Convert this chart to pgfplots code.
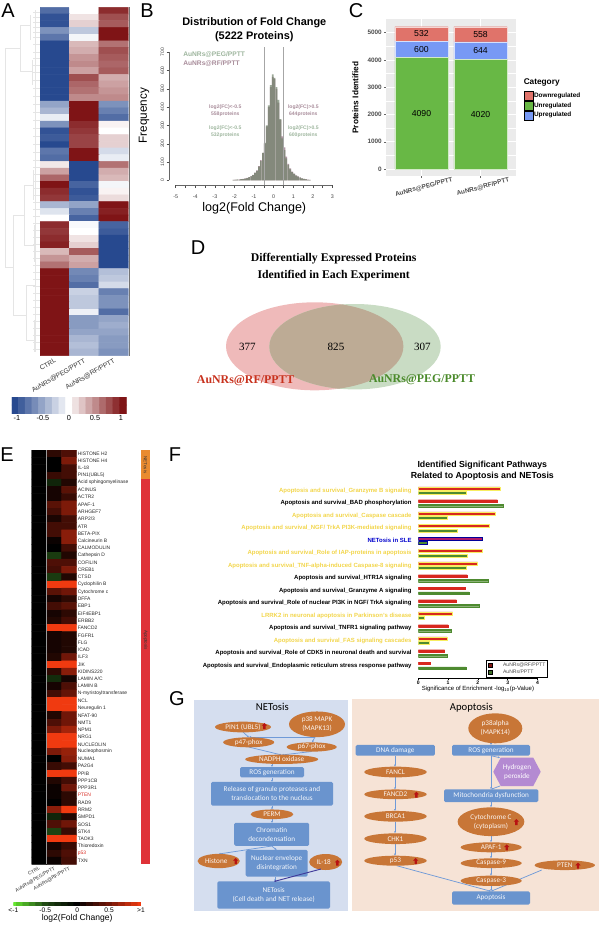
\documentclass[border=0pt]{standalone}
\usepackage{fontspec}
\setmainfont{Liberation Sans}
\newfontfamily\timesf{Liberation Serif}
\newfontfamily\calf{Carlito}
\usepackage{pgfplots}
\pgfplotsset{compat=1.18}
\usetikzlibrary{arrows.meta}

\newlength\px
\setlength\px{0.75pt}
\newcommand\fs[1]{\fontsize{#1}{1.25\dimexpr#1pt\relax}\selectfont}

\definecolor{hmblue}{HTML}{27498F}
\definecolor{hmred}{HTML}{7F1416}
\definecolor{hmgreen}{HTML}{66E830}
\definecolor{hmdkgreen}{HTML}{204A14}
\definecolor{hmdkred}{HTML}{701608}
\definecolor{hmorange}{HTML}{F03A10}
\definecolor{ggbg}{HTML}{EBEBEB}
\definecolor{downc}{HTML}{E0736A}
\definecolor{upc}{HTML}{7799F5}
\definecolor{unc}{HTML}{68B845}
\definecolor{ylw}{HTML}{F2D54A}
\definecolor{barred}{HTML}{D8281F}
\definecolor{bargreen}{HTML}{4E8A30}
\definecolor{halo}{HTML}{F8EE60}
\definecolor{ovalc}{HTML}{C87637}
\definecolor{rectc}{HTML}{6A94CE}
\definecolor{linkc}{HTML}{6F9AD8}
\definecolor{redc}{HTML}{B81212}
\definecolor{pegc}{HTML}{9DB59D}
\definecolor{pegbar}{HTML}{72846C}
\definecolor{rfc}{HTML}{A88C9A}
\definecolor{vennl}{HTML}{EFBABA}
\definecolor{vennr}{HTML}{C9DCC4}
\definecolor{vennm}{HTML}{BDAB95}
\definecolor{vennredtxt}{HTML}{C8321E}
\definecolor{venngrntxt}{HTML}{4A8A2A}
\definecolor{sideorange}{HTML}{E98B2F}
\definecolor{sidered}{HTML}{DF3238}
\definecolor{bgblue}{HTML}{D5DEEF}
\definecolor{bgorange}{HTML}{F6E3D6}
\definecolor{hexc}{HTML}{B48AD2}
\definecolor{ilarrow}{HTML}{3F3A9A}

\pgfplotsset{
  colormap={bwr}{color=(hmblue) color=(white) color=(hmred)},
  colormap={gbr}{color=(hmgreen) color=(hmdkgreen) color=(black) color=(hmdkred) color=(hmorange)},
  /pgf/number format/assume math mode=true,
}

\newcommand\ovl[5]{%
  \fill[ovalc] (#1,#2) ellipse ({#3/2} and {#4/2});
  \node[text=white!92!ovalc,font=\calf\fs{5.4},align=center,inner sep=0pt] at (#1,#2) {#5};}
\newcommand\rct[5]{%
  \fill[rectc,rounded corners=1.1pt] ({#1-#3/2},{#2-#4/2}) rectangle ({#1+#3/2},{#2+#4/2});
  \node[text=white!92!rectc,font=\calf\fs{5.4},align=center,inner sep=0pt] at (#1,#2) {#5};}
\newcommand\redup[2]{%
  \fill[redc,shift={(#1,#2)}] (0,-3) -- (2.7,-.3) -- (1.2,-.3) -- (1.2,3) -- (-1.2,3) -- (-1.2,-.3) -- (-2.7,-.3) -- cycle;}

\begin{document}
\begin{tikzpicture}
\useasboundingbox (0,0) rectangle (600\px,-925\px);

% A heat map
\begin{axis}[at={(40\px,-7.3\px)},anchor=north west,scale only axis,
  width=88.3\px,height=348.4\px,
  xmin=-.5,xmax=2.5,ymin=-.5,ymax=51.5,y dir=reverse,
  axis line style={draw=none},tick style={draw=none},
  ytick=\empty,xtick={0,1,2},
  xticklabels={CTRL,AuNRs@PEG/PPTT,AuNRs@RF/PPTT},
  xticklabel style={rotate=30,anchor=north east,font=\fs{5},text=black!80,inner sep=1pt},
  colormap name=bwr,point meta min=-1,point meta max=1]
\addplot[matrix plot*,mesh/cols=3,point meta=explicit] coordinates {
(0,0)[-.8] (1,0)[0] (2,0)[.9]
(0,1)[-.95] (1,1)[.12] (2,1)[.75]
(0,2)[-.95] (1,2)[.2] (2,2)[.7]
(0,3)[-.6] (1,3)[-.3] (2,3)[1]
(0,4)[-.75] (1,4)[-.05] (2,4)[1]
(0,5)[-1] (1,5)[.3] (2,5)[.6]
(0,6)[-1] (1,6)[.35] (2,6)[.75]
(0,7)[-1] (1,7)[.45] (2,7)[.7]
(0,8)[-1] (1,8)[.5] (2,8)[.65]
(0,9)[-1] (1,9)[.4] (2,9)[.7]
(0,10)[-1] (1,10)[.75] (2,10)[.35]
(0,11)[-1] (1,11)[.65] (2,11)[.4]
(0,12)[-1] (1,12)[.6] (2,12)[.45]
(0,13)[-1] (1,13)[.5] (2,13)[.5]
(0,14)[-.5] (1,14)[1] (2,14)[-.6]
(0,15)[-.4] (1,15)[1] (2,15)[-.7]
(0,16)[-.1] (1,16)[1] (2,16)[-.8]
(0,17)[-.6] (1,17)[.9] (2,17)[.05]
(0,18)[-.95] (1,18)[.85] (2,18)[0]
(0,19)[-.9] (1,19)[.8] (2,19)[.2]
(0,20)[-1] (1,20)[.8] (2,20)[.2]
(0,21)[-.75] (1,21)[1] (2,21)[-.2]
(0,22)[-.8] (1,22)[1] (2,22)[-.1]
(0,23)[.1] (1,23)[-1] (2,23)[.6]
(0,24)[.4] (1,24)[-1] (2,24)[.35]
(0,25)[.65] (1,25)[-1] (2,25)[.3]
(0,26)[1] (1,26)[-.85] (2,26)[-.05]
(0,27)[.9] (1,27)[-.95] (2,27)[.05]
(0,28)[.85] (1,28)[-.9] (2,28)[.15]
(0,29)[-.4] (1,29)[-.5] (2,29)[1]
(0,30)[-.15] (1,30)[-.7] (2,30)[.95]
(0,31)[0] (1,31)[-.85] (2,31)[1]
(0,32)[.9] (1,32)[-.03] (2,32)[-.85]
(0,33)[.85] (1,33)[0] (2,33)[-.9]
(0,34)[.9] (1,34)[.12] (2,34)[-1]
(0,35)[.95] (1,35)[.2] (2,35)[-1]
(0,36)[.3] (1,36)[.7] (2,36)[-1]
(0,37)[.45] (1,37)[.35] (2,37)[-1]
(0,38)[.6] (1,38)[.4] (2,38)[-1]
(0,39)[1] (1,39)[-.65] (2,39)[-.35]
(0,40)[1] (1,40)[-.7] (2,40)[-.3]
(0,41)[1] (1,41)[-.8] (2,41)[-.2]
(0,42)[1] (1,42)[-.25] (2,42)[-.7]
(0,43)[1] (1,43)[-.3] (2,43)[-.6]
(0,44)[1] (1,44)[-.3] (2,44)[-.6]
(0,45)[1] (1,45)[-.08] (2,45)[-.8]
(0,46)[1] (1,46)[-.55] (2,46)[-.5]
(0,47)[1] (1,47)[-.55] (2,47)[-.45]
(0,48)[1] (1,48)[-.5] (2,48)[-.5]
(0,49)[1] (1,49)[-.4] (2,49)[-.55]
(0,50)[1] (1,50)[-.35] (2,50)[-.55]
(0,51)[1] (1,51)[-.4] (2,51)[-.6]
};
\end{axis}

% A colour key
\begin{axis}[at={(12\px,-397\px)},anchor=north west,scale only axis,
  width=115\px,height=16\px,xmin=-1.096,xmax=1.115,ymin=0,ymax=1,
  axis line style={draw=none},tick style={draw=none},ytick=\empty,
  xtick={-1,-.5,0,.5,1},xticklabels={-1,-0.5,0,0.5,1},
  xticklabel style={font=\fs{5.5},inner sep=1pt,yshift=-1\px},
  colormap name=bwr,point meta min=-1,point meta max=1]
\addplot[matrix plot*,mesh/cols=17,point meta=explicit] coordinates {
(-1.04,0)[-1] (-.91,0)[-.88] (-.78,0)[-.75] (-.65,0)[-.63] (-.52,0)[-.5] (-.39,0)[-.38] (-.26,0)[-.25] (-.13,0)[-.13] (0,0)[0] (.13,0)[.13] (.26,0)[.25] (.39,0)[.38] (.52,0)[.5] (.65,0)[.63] (.78,0)[.75] (.91,0)[.88] (1.04,0)[1]
(-1.04,1)[-1] (-.91,1)[-.88] (-.78,1)[-.75] (-.65,1)[-.63] (-.52,1)[-.5] (-.39,1)[-.38] (-.26,1)[-.25] (-.13,1)[-.13] (0,1)[0] (.13,1)[.13] (.26,1)[.25] (.39,1)[.38] (.52,1)[.5] (.65,1)[.63] (.78,1)[.75] (.91,1)[.88] (1.04,1)[1]
};
\end{axis}

% B histogram
\begin{axis}[at={(169\px,-47\px)},anchor=north west,scale only axis,
  width=165.4\px,height=138\px,xmin=-5.34,xmax=3.1,ymin=-25.7,ymax=729,clip=false,
  axis line style={draw=none},tick align=outside,xtick pos=lower,ytick pos=left,
  major tick length=2.5\px,minor tick length=2.5\px,
  tick style={black!70,line width=.3pt},
  xtick={-5,...,3},xticklabels={-5,-4,-3,-2,-1,0,1,2,3},minor x tick num=1,
  ytick={0,100,...,700},yticklabels={0,100,200,300,400,500,600,700},
  xticklabel style={font=\fs{4},text=black!75,yshift=-3\px},
  yticklabel style={font=\fs{3.7},text=black!75,rotate=90,anchor=south,inner sep=1.5pt},
  ybar,bar width=.085]
\addplot[bar shift=0pt,fill=rfc,draw=none,fill opacity=.9] coordinates {
(-2.05,2)(-1.95,4)(-1.85,3)(-1.75,5)(-1.65,6)(-1.55,8)(-1.45,10)(-1.35,14)(-1.25,18)(-1.15,23)(-1.05,30)(-.95,42)(-.85,55)(-.75,78)(-.65,110)(-.55,150)
(-.45,200)(-.35,295)(-.25,400)(-.15,510)(-.05,565)(.05,555)(.15,500)(.25,425)(.35,330)(.45,240)
(.55,180)(.65,130)(.75,90)(.85,65)(.95,48)(1.05,36)(1.15,27)(1.25,21)(1.35,16)(1.45,11)(1.55,8)(1.65,6)(1.75,4)(1.85,2)};
\addplot[bar shift=0pt,fill=pegbar,draw=none,fill opacity=.7] coordinates {
(-2.05,3)(-1.95,2)(-1.85,5)(-1.75,3)(-1.65,7)(-1.55,6)(-1.45,9)(-1.35,12)(-1.25,17)(-1.15,22)(-1.05,28)(-.95,40)(-.85,52)(-.75,75)(-.65,105)(-.55,150)
(-.45,205)(-.35,300)(-.25,410)(-.15,520)(-.05,580)(.05,560)(.15,510)(.25,440)(.35,335)(.45,230)
(.55,165)(.65,120)(.75,85)(.85,60)(.95,45)(1.05,35)(1.15,25)(1.25,20)(1.35,15)(1.45,10)(1.55,8)(1.65,5)(1.75,3)(1.85,2)};
\addplot[black!60,sharp plot,line width=.3pt] coordinates {(-5,-25.7)(3,-25.7)};
\addplot[black!60,sharp plot,line width=.3pt] coordinates {(-5.34,0)(-5.34,700)};
\addplot[black!35,sharp plot,line width=.4pt] coordinates {(-.5,-25.7)(-.5,729)};
\addplot[black!35,sharp plot,line width=.4pt] coordinates {(.5,-25.7)(.5,729)};
\end{axis}

% C stacked bars
\begin{axis}[at={(386\px,-19\px)},anchor=north west,scale only axis,
  width=130\px,height=157\px,xmin=.4,xmax=2.6,ymin=-257,ymax=5502,
  ybar stacked,bar width=.9,
  axis background/.style={fill=ggbg},axis line style={draw=none},
  grid=both,major grid style={white,line width=.5pt},minor grid style={white,line width=.25pt},
  xtick={1,2},xticklabels={AuNRs@PEG/PPTT,AuNRs@RF/PPTT},
  ytick={0,1000,...,5000},yticklabels={0,1000,2000,3000,4000,5000},minor y tick num=1,
  tick align=outside,xtick pos=lower,ytick pos=left,major tick length=2\px,minor tick length=0pt,
  tick style={black!60,line width=.3pt},
  xticklabel style={font=\bfseries\fs{4.8},text=black!70,rotate=15,anchor=north,inner sep=1pt,yshift=-5\px},
  yticklabel style={font=\bfseries\fs{4.8},text=black!70,inner sep=1.5pt},
  ylabel={Proteins Identified},
  ylabel style={font=\bfseries\fs{6.2},at={(axis description cs:-.175,.5)}},
  legend image code/.code={\fill[#1] (0pt,-3.4pt) rectangle (6.5pt,3.4pt);},
  legend style={at={(1.03,.558)},anchor=north west,draw=none,fill=none,font=\bfseries\fs{4.8},
    cells={anchor=west},row sep=0pt,nodes={inner ysep=0pt,inner xsep=.5pt,minimum height=6.8pt}},
  after end axis/.code={
    \node[font=\fs{6.5}] at (axis cs:1,2045) {4090};
    \node[font=\fs{6.5}] at (axis cs:2,2010) {4020};
    \node[font=\fs{6.5}] at (axis cs:1,4395) {600};
    \node[font=\fs{6.5}] at (axis cs:2,4342) {644};
    \node[font=\fs{6.5}] at (axis cs:1,4956) {532};
    \node[font=\fs{6.5}] at (axis cs:2,4943) {558};
  }]
\addplot[fill=unc,draw=white!70!unc,line width=.2pt,forget plot] coordinates {(1,4090)(2,4020)};
\addplot[fill=upc,draw=white!70!upc,line width=.2pt,forget plot] coordinates {(1,600)(2,644)};
\addplot[fill=downc,draw=white!70!downc,line width=.2pt,forget plot] coordinates {(1,532)(2,558)};
\addlegendimage{fill=downc}\addlegendentry{Downregulated}
\addlegendimage{fill=unc}\addlegendentry{Unregulated}
\addlegendimage{fill=upc}\addlegendentry{Upregulated}
\end{axis}

% E heat map
\begin{axis}[at={(31.7\px,-450\px)},anchor=north west,scale only axis,
  width=45\px,height=414.3\px,
  xmin=-.5,xmax=2.5,ymin=-.5,ymax=56.5,y dir=reverse,
  axis line style={draw=none},tick style={draw=none},
  xtick={0,1,2},xticklabels={CTRL,AuNRs@PEG/PPTT,AuNRs@RF/PPTT},
  xticklabel style={rotate=30,anchor=north east,font=\fs{3.7},text=black!80,inner sep=1pt},
  ytick={0,...,56},yticklabel pos=right,
  yticklabel style={font=\fs{3.7},anchor=west,inner sep=.7pt,text=black!85},
  yticklabels={HISTONE H2,HISTONE H4,IL-18,PIN1(UBL5),Acid sphingomyelinase,ACINUS,ACTR2,APAF-1,ARHGEF7,ARP2/3,ATR,BETA-PIX,Calcineurin B,CALMODULIN,Cathepsin D,COFILIN,CREB1,CTSD,Cyclophilin B,Cytochrome c,DFFA,EBP1,EIF4EBP1,ERBB2,FANCD2,FGFR1,FLG,ICAD,ILF3,JIK,KIDINS220,LAMIN A/C,LAMIN B,N-myristoyltransferase,NCL,Neuregulin 1,NFAT-90,NMT1,NPM1,NRG1,NUCLEOLIN,Nucleophosmin,NUMA1,PA2G4,PPIB,PPP1CB,PPP3R1,\textcolor{barred}{PTEN},RAD9,RRM2,SMPD1,SOS1,STK4,TAOK3,Thioredoxin,\textcolor{barred}{p53},TXN},
  colormap name=gbr,point meta min=-1,point meta max=1]
\addplot[matrix plot*,mesh/cols=3,point meta=explicit] coordinates {
(0,0)[0] (1,0)[.2] (2,0)[.35]
(0,1)[0] (1,1)[0] (2,1)[.55]
(0,2)[0] (1,2)[0] (2,2)[.3]
(0,3)[0] (1,3)[.25] (2,3)[.3]
(0,4)[0] (1,4)[-.25] (2,4)[.15]
(0,5)[0] (1,5)[.1] (2,5)[.4]
(0,6)[0] (1,6)[.1] (2,6)[.25]
(0,7)[0] (1,7)[.4] (2,7)[.55]
(0,8)[0] (1,8)[.3] (2,8)[.55]
(0,9)[0] (1,9)[.12] (2,9)[.3]
(0,10)[0] (1,10)[.3] (2,10)[.3]
(0,11)[0] (1,11)[.3] (2,11)[.6]
(0,12)[0] (1,12)[.05] (2,12)[.6]
(0,13)[0] (1,13)[0] (2,13)[.3]
(0,14)[0] (1,14)[-.4] (2,14)[.15]
(0,15)[0] (1,15)[.35] (2,15)[.35]
(0,16)[0] (1,16)[.3] (2,16)[.55]
(0,17)[0] (1,17)[-.4] (2,17)[.15]
(0,18)[0] (1,18)[1] (2,18)[1]
(0,19)[0] (1,19)[.4] (2,19)[.5]
(0,20)[0] (1,20)[.1] (2,20)[.2]
(0,21)[0] (1,21)[.3] (2,21)[.4]
(0,22)[0] (1,22)[.1] (2,22)[.2]
(0,23)[0] (1,23)[.15] (2,23)[.3]
(0,24)[0] (1,24)[1] (2,24)[1]
(0,25)[0] (1,25)[.1] (2,25)[.15]
(0,26)[0] (1,26)[.1] (2,26)[.15]
(0,27)[0] (1,27)[.1] (2,27)[.15]
(0,28)[0] (1,28)[.15] (2,28)[.5]
(0,29)[0] (1,29)[1] (2,29)[1]
(0,30)[0] (1,30)[.2] (2,30)[.6]
(0,31)[0] (1,31)[-.3] (2,31)[.1]
(0,32)[0] (1,32)[.1] (2,32)[.35]
(0,33)[0] (1,33)[.3] (2,33)[.45]
(0,34)[0] (1,34)[1] (2,34)[1]
(0,35)[0] (1,35)[1] (2,35)[1]
(0,36)[0] (1,36)[.15] (2,36)[.5]
(0,37)[0] (1,37)[.35] (2,37)[.5]
(0,38)[0] (1,38)[.55] (2,38)[.7]
(0,39)[0] (1,39)[1] (2,39)[1]
(0,40)[0] (1,40)[1] (2,40)[1]
(0,41)[0] (1,41)[.55] (2,41)[.65]
(0,42)[0] (1,42)[0] (2,42)[.6]
(0,43)[0] (1,43)[.25] (2,43)[.3]
(0,44)[0] (1,44)[1] (2,44)[1]
(0,45)[0] (1,45)[.15] (2,45)[.3]
(0,46)[0] (1,46)[.05] (2,46)[.5]
(0,47)[0] (1,47)[.05] (2,47)[.2]
(0,48)[0] (1,48)[0] (2,48)[.2]
(0,49)[0] (1,49)[.6] (2,49)[1]
(0,50)[0] (1,50)[-.25] (2,50)[.15]
(0,51)[0] (1,51)[.35] (2,51)[.5]
(0,52)[0] (1,52)[-.45] (2,52)[.25]
(0,53)[0] (1,53)[1] (2,53)[1]
(0,54)[0] (1,54)[.1] (2,54)[.25]
(0,55)[0] (1,55)[.2] (2,55)[.35]
(0,56)[0] (1,56)[.05] (2,56)[.3]
};
\addplot[black!40,line width=.8pt,sharp plot] coordinates {(.5,-.5)(.5,56.5)};
\end{axis}

% E colour key
\begin{axis}[at={(13.3\px,-902.3\px)},anchor=north west,scale only axis,
  width=127.7\px,height=3.4\px,xmin=-1,xmax=1,ymin=0,ymax=1,
  axis line style={draw=none},tick style={draw=none},ytick=\empty,
  xtick={-1,-.5,0,.5,1},xticklabels={<-1,-0.5,0,0.5,>1},
  xticklabel style={font=\fs{5},inner sep=1pt,yshift=-1\px},
  xlabel={log2(Fold Change)},xlabel style={font=\fs{6.4},inner sep=1pt,yshift=1.5\px},
  colormap name=gbr,point meta min=-1,point meta max=1]
\addplot[matrix plot*,mesh/cols=21,point meta=explicit] coordinates {
(-1,0)[-1] (-.9,0)[-.9] (-.8,0)[-.8] (-.7,0)[-.7] (-.6,0)[-.6] (-.5,0)[-.5] (-.4,0)[-.4] (-.3,0)[-.3] (-.2,0)[-.2] (-.1,0)[-.1] (0,0)[0] (.1,0)[.1] (.2,0)[.2] (.3,0)[.3] (.4,0)[.4] (.5,0)[.5] (.6,0)[.6] (.7,0)[.7] (.8,0)[.8] (.9,0)[.9] (1,0)[1]
(-1,1)[-1] (-.9,1)[-.9] (-.8,1)[-.8] (-.7,1)[-.7] (-.6,1)[-.6] (-.5,1)[-.5] (-.4,1)[-.4] (-.3,1)[-.3] (-.2,1)[-.2] (-.1,1)[-.1] (0,1)[0] (.1,1)[.1] (.2,1)[.2] (.3,1)[.3] (.4,1)[.4] (.5,1)[.5] (.6,1)[.6] (.7,1)[.7] (.8,1)[.8] (.9,1)[.9] (1,1)[1]
};
\end{axis}

% F pathway bars
\begin{axis}[at={(418.3\px,-484.45\px)},anchor=north west,scale only axis,
  width=119.2\px,height=193.55\px,xmin=0,xmax=4,ymin=.016,ymax=15.5,
  xbar,bar width=2.3\px,
  axis x line=bottom,axis y line=left,axis line style={-},y axis line style={draw=none},
  ytick style={draw=none},tick style={black,line width=.4pt},
  xtick={0,1,2,3,4},xticklabels={0,1,2,3,4},tick align=outside,major tick length=2\px,
  xticklabel style={font=\bfseries\fs{3.8},inner sep=.5pt},
  xlabel={Significance of Enrichment -log\textsubscript{10}(p-Value)},
  xlabel style={font=\fs{4.5},inner sep=.5pt},
  ytick={1,...,15},
  yticklabel style={font=\bfseries\fs{4.5},anchor=east,inner sep=0pt,xshift=-4.5\px},
  yticklabels={
    Apoptosis and survival\_Endoplasmic reticulum stress response pathway,
    Apoptosis and survival\_Role of CDK5 in neuronal death and survival,
    \textcolor{ylw}{Apoptosis and survival\_FAS signaling cascades},
    Apoptosis and survival\_TNFR1 signaling pathway,
    \textcolor{ylw}{LRRK2 in neuronal apoptosis in Parkinson's disease},
    Apoptosis and survival\_Role of nuclear PI3K in NGF/ TrkA signaling,
    Apoptosis and survival\_Granzyme A signaling,
    Apoptosis and survival\_HTR1A signaling,
    \textcolor{ylw}{Apoptosis and survival\_TNF-alpha-induced Caspase-8 signaling},
    \textcolor{ylw}{Apoptosis and survival\_Role of IAP-proteins in apoptosis},
    \textcolor{blue!80!black}{NETosis in SLE},
    \textcolor{ylw}{Apoptosis and survival\_NGF/ TrkA PI3K-mediated signaling},
    \textcolor{ylw}{Apoptosis and survival\_Caspase cascade},
    Apoptosis and survival\_BAD phosphorylation,
    \textcolor{ylw}{Apoptosis and survival\_Granzyme B signaling}},
  legend image code/.code={\fill[#1] (3pt,-1.6pt) rectangle (6pt,1.6pt);\draw[#1] (3pt,-1.6pt) rectangle (6pt,1.6pt);},
  legend style={at={(axis cs:2.27,1.456)},anchor=north west,draw=black,line width=.7pt,fill=white,
    font=\fs{3.8},text=black!70,cells={anchor=west},inner sep=1.3pt,row sep=0pt,nodes={inner sep=.5pt}}]
\addplot[bar shift=2.33\px,fill=barred,draw=barred,line width=.2pt,forget plot] coordinates {(2.65,14)(1.64,8)(1.58,7)(1.28,6)(1.0,4)(.88,2)(.39,1)};
\addplot[bar shift=2.33\px,bar width=3\px,fill=barred,draw=halo,line width=.5pt,forget plot] coordinates {(2.74,15)(2.58,13)(2.4,12)(2.14,10)(1.99,9)(1.15,5)(.97,3)};
\addplot[bar shift=2.33\px,bar width=3\px,fill=violet!70!red!90!white,draw=blue!60!black,line width=.5pt,forget plot] coordinates {(2.16,11)};
\addplot[bar shift=-2.33\px,fill=bargreen,draw=bargreen,line width=.2pt,forget plot] coordinates {(2.85,14)(2.36,8)(1.7,7)(2.04,6)(1.11,4)(.97,2)(1.6,1)};
\addplot[bar shift=-2.33\px,bar width=3\px,fill=bargreen,draw=halo,line width=.5pt,forget plot] coordinates {(1.6,15)(.97,13)(1.31,12)(1.64,10)(1.6,9)(.2,5)(.37,3)};
\addplot[bar shift=-2.33\px,bar width=3\px,fill=bargreen,draw=blue!60!black,line width=.5pt,forget plot] coordinates {(.3,11)};
\addlegendimage{fill=barred!60!black,draw=black}\addlegendentry{\hspace{7pt}AuNRs@RF/PPTT}
\addlegendimage{fill=bargreen!80!black,draw=black}\addlegendentry{\hspace{7pt}AuNRs/PPTT}
\end{axis}

\begin{scope}[x=1\px,y=-1\px]
% A dendrogram
\begin{scope}[black!10,line width=.35pt]
  \draw (20,48) -- (5.7,48) -- (5.7,267) -- (13,267);
  \draw (30,25) -- (20,25) -- (20,71) -- (32,71);
  \draw (13,215) -- (13,315) (13,215) -- (24,215) (13,315) -- (26,315);
  \draw (24,185) -- (24,245) (24,185) -- (33,185) (24,245) -- (34,245);
  \draw (26,285) -- (26,340) (26,285) -- (35,285) (26,340) -- (34,340);
  \draw (30,15) -- (30,40) (32,60) -- (32,85) (33,170) -- (33,200) (34,225) -- (34,262) (35,270) -- (35,300) (34,320) -- (34,352);
  \foreach \y in {12,17,22,27,32,37,44,52,58,65,72,80,88,96,104,112,120,128,136,144,152,160,167,174,181,188,195,202,209,216,223,230,237,244,251,258,265,272,279,286,293,300,307,314,321,328,335,342,349}
    \draw (33,\y) -- (39.5,\y);
  \draw (35,10) -- (35,352);
\end{scope}
\draw[black!55,line width=.6pt] (129,7.3) -- (129,356);

% E side bars
\fill[sideorange] (141.3,450) rectangle (150,479.3);
\fill[sidered] (141.3,479.3) rectangle (150,864.3);
\node[rotate=-90,font=\fs{3.4},inner sep=0pt,text=black!80] at (145.5,465) {NETosis};
\node[rotate=-90,font=\fs{3.4},inner sep=0pt,text=black!80] at (145.5,640) {Apoptosis};

% panel letters
\foreach \t/\x/\y in {A/8/11,B/147/11,C/356/11,D/198/248,E/7/455,F/175/455,G/177/699}
  \node[font=\fs{15},inner sep=0pt] at (\x,\y) {\t};

% B annotations
\node[font=\bfseries\fs{8.2},align=center,inner sep=0pt] at (254.3,30) {Distribution of Fold Change\\(5222 Proteins)};
\node[font=\fs{9.4},inner sep=0pt] at (254.3,208) {log2(Fold Change)};
\node[font=\fs{8.8},inner sep=0pt,rotate=90] at (144,115.5) {Frequency};
\node[font=\bfseries\fs{5},text=pegc,anchor=west,inner sep=0pt] at (183,55) {AuNRs@PEG/PPTT};
\node[font=\bfseries\fs{5},text=rfc,anchor=west,inner sep=0pt] at (183,63.7) {AuNRs@RF/PPTT};
\begin{scope}[font=\bfseries\fs{3.8},inner sep=0pt]
  \node[text=rfc] at (225.3,106.7) {log2(FC)<-0.5};
  \node[text=rfc] at (225.3,114) {558proteins};
  \node[text=pegc] at (225.3,128) {log2(FC)<-0.5};
  \node[text=pegc] at (225.3,135) {532proteins};
  \node[text=rfc] at (303.3,106.7) {log2(FC)>0.5};
  \node[text=rfc] at (303.3,114) {644proteins};
  \node[text=pegc] at (303.3,128) {log2(FC)>0.5};
  \node[text=pegc] at (303.3,135) {600proteins};
\end{scope}

% C legend title
\node[font=\bfseries\fs{6.2},anchor=west,inner sep=0pt] at (523.5,82.7) {Category};

% D venn
\fill[vennl] (314.7,346.3) ellipse (88.7 and 44);
\fill[vennr] (355,346.7) ellipse (85.7 and 42.7);
\begin{scope}
  \clip (314.7,346.3) ellipse (88.7 and 44);
  \fill[vennm] (355,346.7) ellipse (85.7 and 42.7);
\end{scope}
\node[font=\timesf\bfseries\fs{8.8},inner sep=0pt] at (333.7,259) {Differentially Expressed Proteins};
\node[font=\timesf\bfseries\fs{8.8},inner sep=0pt] at (333.7,275.7) {Identified in Each Experiment};
\foreach \t/\x in {377/247.3,825/336,307/422.3}
  \node[font=\timesf\fs{8.3},inner sep=0pt] at (\x,346.7) {\t};
\node[font=\timesf\bfseries\fs{8.9},text=vennredtxt,inner sep=0pt] at (245.7,380.7) {AuNRs@RF/PPTT};
\node[font=\timesf\bfseries\fs{8.9},text=venngrntxt,inner sep=0pt] at (422,380) {AuNRs@PEG/PPTT};

% F title
\node[font=\bfseries\fs{6.6},align=center,inner sep=0pt] at (482.3,470.5) {Identified Significant Pathways\\Related to Apoptosis and NETosis};

% G backgrounds
\fill[bgblue] (194,700) rectangle (348.3,910.7);
\fill[bgorange] (351.7,699.3) rectangle (598.7,910.7);
\node[font=\calf\fs{8},inner sep=0pt] at (272.3,707.3) {NETosis};
\node[font=\calf\fs{8},inner sep=0pt] at (471.3,707.3) {Apoptosis};

% G links
\begin{scope}[linkc,line width=.55pt,-{Latex[length=1.5pt,width=1.5pt]}]
  \draw (243,732) -- (249,737.5);
  \draw (315,737) -- (249,737) ;
  \draw (315,737) -- (312,742.5);
  \draw (248.7,747) -- (281.7,755);
  \draw (311.7,751.5) -- (281.7,755);
  \draw (272,764) -- (272,767);
  \draw (272,777.5) -- (272,782);
  \draw (272,805.5) -- (272,809.5);
  \draw (272,819) -- (272,823);
  \draw (271.7,846) -- (218.7,854);
  \draw (271.7,846) -- (276.7,850);
  \draw (275,876.7) -- (275,881.5);
  \draw (395,755.7) -- (395,766.7);
  \draw (395,777.4) -- (395,789.5);
  \draw (395,799.1) -- (395,811);
  \draw (395,821.7) -- (395,833.3);
  \draw (395,844) -- (395,855.7);
  \draw (491,743.3) -- (491,745);
  \draw (491,755.7) -- (491,789.3);
  \draw (491,755.7) -- (500,757.7);
  \draw (500,786) -- (491,789.3);
  \draw (491,802) -- (491,807.3);
  \draw (491,836) -- (491,842.3);
  \draw (491,852.3) -- (491,858.4);
  \draw (491,868) -- (491,875.7);
  \draw (491,886) -- (491,891.3);
  \draw (396.7,865.7) -- (491,891.3);
  \draw (541.7,870) -- (491,891.3);
\end{scope}

% G nodes, NETosis
\ovl{243}{727}{56}{10.7}{PIN1 (UBL5)}
\ovl{317}{724.3}{56}{25.7}{p38 MAPK\\(MAPK13)}
\ovl{248.7}{742.3}{51}{10}{p47-phox}
\ovl{311.7}{747}{50}{9.3}{p67-phox}
\ovl{281.7}{759.3}{73}{9.3}{NADPH oxidase}
\rct{272}{772.3}{64}{10.3}{ROS generation}
\rct{272}{793.7}{122}{23.7}{Release of granule proteases and\\translocation to the nucleus}
\ovl{272}{814.3}{42.7}{9.7}{PERM}
\rct{271.7}{834.3}{75}{23}{Chromatin\\decondensation}
\ovl{218.7}{861}{42.3}{14.3}{\hspace{-5\px}Histone}
\rct{276.7}{863.3}{62}{26.7}{Nuclear envelope\\disintegration}
\ovl{325.7}{862}{33}{16}{\hspace{-4\px}IL-18}
\rct{273.7}{895}{112.7}{27.3}{NETosis\\(Cell death and NET release)}
\draw[ilarrow,line width=.7pt,-{Latex[length=1.5pt,width=1.5pt]}] (321,869) -- (274,881.5);

% G nodes, apoptosis
\ovl{495.3}{728.3}{54}{30}{p38alpha\\(MAPK14)}
\rct{395.3}{750.3}{79.3}{10.7}{DNA damage}
\rct{491}{750.3}{78}{10.7}{ROS generation}
\ovl{395.5}{772}{62.4}{10.7}{FANCL}
\ovl{395.5}{794.3}{62.4}{9.7}{FANCD2}
\ovl{395.5}{816.3}{62.4}{10.7}{BRCA1}
\ovl{395.5}{838.7}{62.4}{10.7}{CHK1}
\ovl{395.5}{860.7}{62.4}{10}{p53}
\fill[hexc] (493.3,771.7) -- (500.7,757.7) -- (533.3,757.7) -- (540.7,771.7) -- (533.3,786) -- (500.7,786) -- cycle;
\node[text=white,font=\calf\fs{5.4},align=center,inner sep=0pt] at (517,771.8) {Hydrogen\\peroxide};
\rct{491.2}{795.7}{94.3}{12.7}{Mitochondria dysfunction}
\ovl{491}{821.7}{66.7}{28.7}{Cytochrome C\\(cytoplasm)}
\ovl{491.2}{847.3}{61}{10}{APAF-1}
\ovl{491.2}{863.2}{61}{9.7}{Caspase-9}
\ovl{491.2}{880.8}{61}{10.3}{Caspase-3}
\ovl{564.8}{865.2}{60.3}{9.7}{PTEN}
\rct{491}{898}{78}{13.3}{Apoptosis}

% G red arrows
\redup{264.3}{726}
\redup{235.7}{861}
\redup{337.3}{862.7}
\redup{416.3}{794.7}
\redup{415.7}{861}
\redup{516.3}{822}
\redup{506.7}{847.3}
\redup{578}{865.7}
\end{scope}
\end{tikzpicture}
\end{document}
